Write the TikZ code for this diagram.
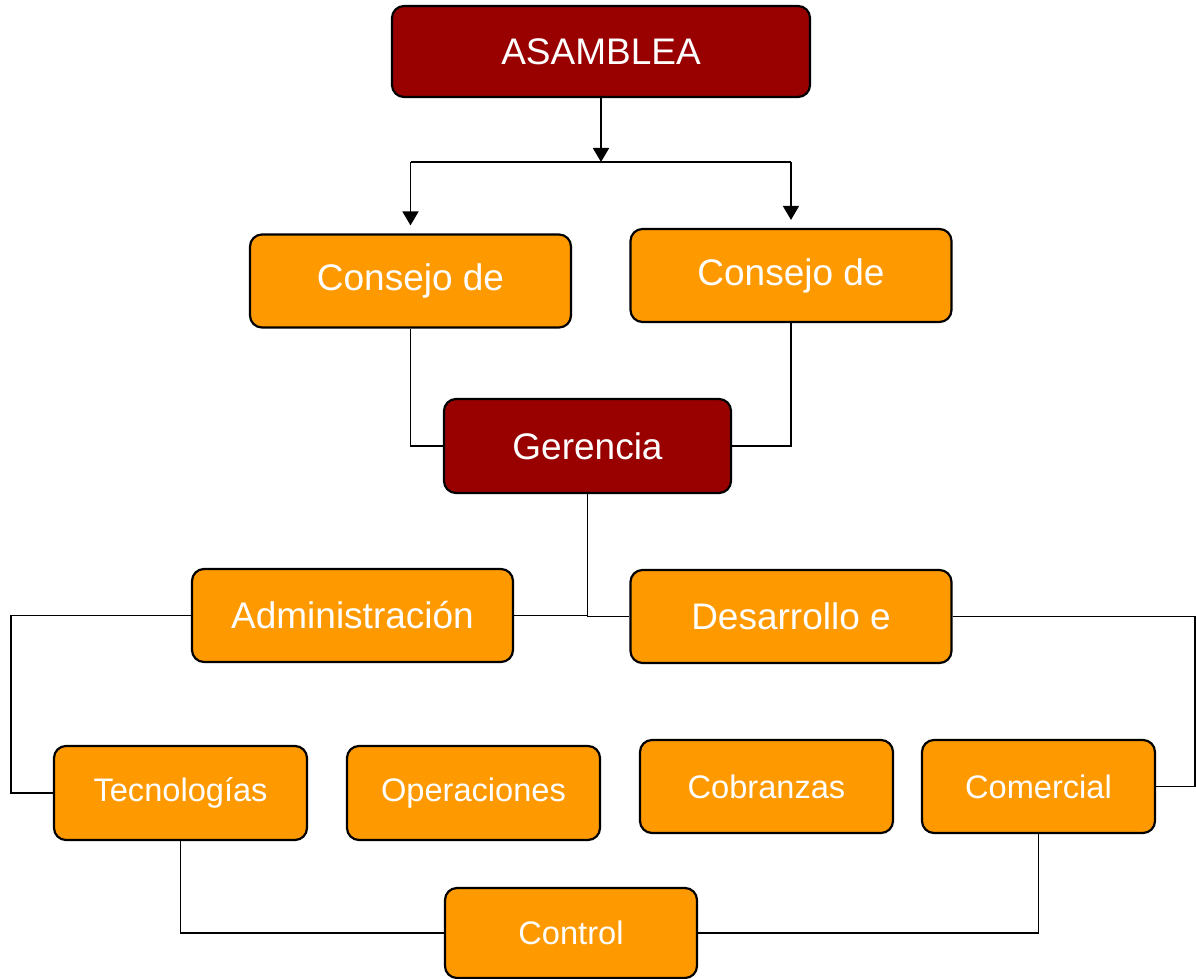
\documentclass[tikz,border=0pt]{standalone}
\usepackage{fontspec}
\setmainfont{Liberation Sans}
\usetikzlibrary{arrows.meta,positioning,calc}
\definecolor{headred}{RGB}{153,0,0}
\definecolor{unitorange}{RGB}{255,153,0}

\begin{document}
\begin{tikzpicture}[
    x=0.5pt, y=-0.5pt,
    >={Triangle[length=7pt,width=8pt]},
    box/.style={draw, line width=1.1pt, rounded corners=6pt, text=white, inner sep=0pt, align=center,
      font=\fontsize{18.5}{22}\selectfont},
    head/.style={box, fill=headred},
    unit/.style={box, fill=unitorange, minimum width=160.5pt, minimum height=46.5pt},
    small/.style={box, fill=unitorange, minimum width=126.5pt, minimum height=47pt,
      font=\fontsize{16.3}{19}\selectfont},
    link/.style={line width=0.9pt},
  ]
  \useasboundingbox (0,0) rectangle (1196,979);

  \node[head, minimum width=209pt, minimum height=45.5pt] (asam) at (601,51.5) {ASAMBLEA};
  \node[unit] (conL) at (410.5,281) {Consejo de};
  \node[unit] (conR) at (791,275.5) {Consejo de};
  \node[head, minimum width=143.5pt, minimum height=47pt] (ger) at (587.5,446) {Gerencia};
  \node[unit] (adm) at (352.5,615.5) {Administración};
  \node[unit] (des) at (791,616.5) {Desarrollo e};
  \node[small] (tec) at (180.5,793) {Tecnologías};
  \node[small] (ope) at (473.5,793) {Operaciones};
  \node[small, minimum height=46.5pt] (cob) at (766.5,786.5) {Cobranzas};
  \node[small, minimum width=116.5pt, minimum height=46.5pt] (com) at (1038.5,786.5) {Comercial};
  \node[small, minimum width=126pt, minimum height=45pt] (ctl) at (571,933) {Control};

  % split below the assembly
  \coordinate (split) at (601,162);
  \coordinate (splitL) at (410.5,162);
  \coordinate (splitR) at (791,162);
  \draw[link,->] (asam.south) -- (split);
  \draw[link] (splitL) -- (splitR);
  \draw[link,->,shorten >=4pt] (splitL) -- (conL.north);
  \draw[link,->,shorten >=4pt] (splitR) -- (conR.north);

  \draw[link] (conL.south) |- (ger.west);
  \draw[link] (conR.south) |- (ger.east);
  \draw[link] (ger.south) |- (adm.east);
  \draw[link] (ger.south) |- (des.west);

  % outer rails
  \coordinate (railL) at (11,700);
  \coordinate (railR) at (1195,700);
  \draw[link] (adm.west) -| (railL) |- (tec.west);
  \draw[link] (des.east) -| (railR) |- (com.east);

  \draw[link] (tec.south) |- (ctl.west);
  \draw[link] (com.south) |- (ctl.east);
\end{tikzpicture}
\end{document}
